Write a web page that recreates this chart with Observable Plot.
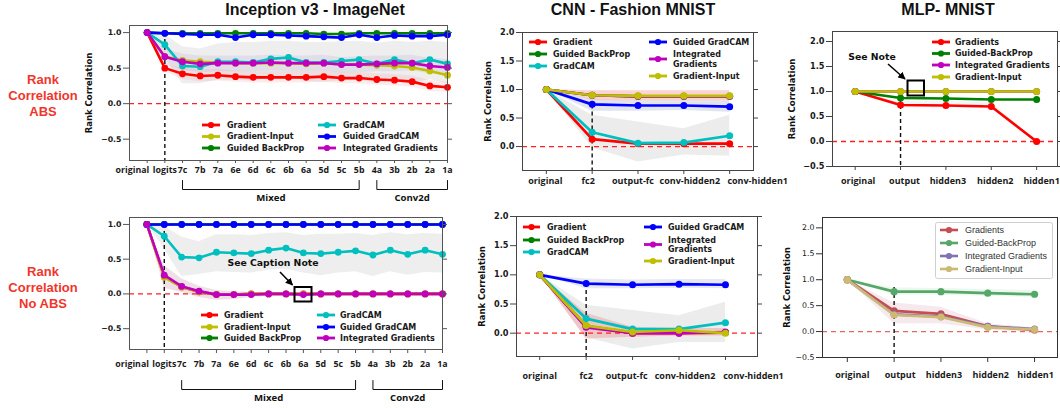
<!DOCTYPE html>
<html><head><meta charset="utf-8">
<script src="https://cdn.jsdelivr.net/npm/d3@7"></script>
<script src="https://cdn.jsdelivr.net/npm/@observablehq/plot@0.6"></script>
<style>
html,body{margin:0;padding:0;background:#fff;}
#root{position:relative;width:1060px;height:408px;overflow:hidden;background:#fff;}
#root > svg, #root > figure{position:absolute;margin:0;}
</style></head><body><div id="root"></div>
<script>
// ================= DATA =================
const inceptionLayers = ["original","logits","7c","7b","7a","6e","6d","6c","6b","6a","5d","5c","5b","4a","3b","2b","2a","1a"];
const inceptionGroupNames = ["Mixed","Conv2d"];
const inceptionGroupStart = ["7c","4a"];
const inceptionGroupEnd = ["5b","1a"];

// Inception v3 - ABS
const absGradient            = [1.00,0.50,0.42,0.39,0.40,0.38,0.37,0.37,0.37,0.37,0.38,0.36,0.36,0.34,0.33,0.31,0.25,0.23];
const absGradientInput       = [1.00,0.66,0.61,0.59,0.58,0.57,0.57,0.57,0.57,0.56,0.57,0.55,0.55,0.54,0.53,0.51,0.46,0.40];
const absGuidedBackProp      = [1.00,0.99,0.99,0.99,0.99,0.99,0.99,0.99,0.99,0.99,0.98,0.98,0.99,0.99,0.99,0.99,0.99,0.99];
const absGradCAM             = [1.00,0.83,0.53,0.52,0.59,0.59,0.58,0.63,0.65,0.58,0.58,0.60,0.62,0.56,0.62,0.57,0.62,0.56];
const absGuidedGradCAM       = [1.00,0.99,0.98,0.97,0.97,0.93,0.97,0.97,0.96,0.95,0.94,0.93,0.97,0.93,0.96,0.95,0.95,0.97];
const absIntegratedGradients = [1.00,0.66,0.59,0.56,0.57,0.57,0.57,0.58,0.57,0.57,0.57,0.55,0.55,0.56,0.57,0.57,0.53,0.51];
const absGradCAMLo  = [1.00,0.65,0.28,0.28,0.33,0.33,0.32,0.36,0.38,0.31,0.30,0.32,0.34,0.28,0.34,0.28,0.34,0.28];
const absGradCAMHi  = [1.00,0.97,0.80,0.77,0.84,0.86,0.86,0.88,0.88,0.86,0.86,0.87,0.88,0.85,0.88,0.86,0.88,0.86];
const absGradientLo = [1.00,0.45,0.34,0.31,0.32,0.30,0.29,0.29,0.29,0.29,0.30,0.28,0.28,0.26,0.25,0.23,0.17,0.16];
const absGradientHi = [1.00,0.55,0.50,0.47,0.48,0.46,0.45,0.45,0.45,0.45,0.46,0.44,0.44,0.42,0.41,0.39,0.33,0.30];
const absIGLo = [1.00,0.55,0.47,0.44,0.45,0.45,0.45,0.46,0.45,0.45,0.46,0.43,0.44,0.45,0.45,0.46,0.42,0.40];
const absIGHi = [1.00,0.77,0.70,0.67,0.67,0.67,0.67,0.68,0.67,0.67,0.68,0.65,0.66,0.67,0.67,0.68,0.64,0.62];

// Inception v3 - No ABS
const noAbsGradient            = [1.00,0.25,0.10,0.03,-0.01,-0.01,0.00,0.00,0.00,0.00,0.00,0.00,0.00,0.00,0.00,0.00,0.00,0.00];
const noAbsGradientInput       = [1.00,0.24,0.10,0.03,-0.01,-0.01,0.00,0.00,0.00,0.00,0.00,0.00,0.00,0.00,0.00,0.00,0.00,0.00];
const noAbsGuidedBackProp      = [1.00,1.00,1.00,1.00,1.00,1.00,1.00,1.00,1.00,1.00,1.00,1.00,1.00,1.00,1.00,1.00,1.00,1.00];
const noAbsGradCAM             = [1.00,0.83,0.53,0.52,0.60,0.59,0.58,0.63,0.66,0.59,0.58,0.60,0.62,0.56,0.63,0.57,0.63,0.57];
const noAbsGuidedGradCAM       = [1.00,1.00,1.00,1.00,1.00,1.00,1.00,1.00,1.00,1.00,1.00,1.00,1.00,1.00,1.00,1.00,1.00,1.00];
const noAbsIntegratedGradients = [1.00,0.27,0.11,0.04,-0.01,-0.01,-0.01,0.00,0.00,-0.01,0.00,0.00,0.00,0.00,0.00,0.00,0.00,0.00];
const noAbsGradCAMLo = [1.00,0.65,0.25,0.28,0.32,0.31,0.30,0.34,0.36,0.30,0.26,0.30,0.32,0.25,0.32,0.27,0.31,0.30];
const noAbsGradCAMHi = [1.00,0.97,0.82,0.75,0.85,0.85,0.84,0.87,0.88,0.84,0.86,0.86,0.87,0.84,0.88,0.85,0.87,0.86];
const noAbsIGLo = [1.00,0.08,0.02,-0.05,-0.09,-0.08,-0.05,-0.03,-0.02,-0.02,-0.02,-0.02,-0.02,-0.02,-0.02,-0.02,-0.02,-0.02];
const noAbsIGHi = [1.00,0.41,0.22,0.11,0.05,0.03,0.02,0.02,0.02,0.02,0.02,0.02,0.02,0.02,0.02,0.02,0.02,0.02];

// CNN - Fashion MNIST
const cnnLayers = ["original","fc2","output-fc","conv-hidden2","conv-hidden1"];
const cnnAbsGradient            = [1.00,0.13,0.05,0.05,0.05];
const cnnAbsGuidedBackProp      = [1.00,0.90,0.88,0.88,0.88];
const cnnAbsGradCAM             = [1.00,0.25,0.06,0.07,0.19];
const cnnAbsGuidedGradCAM       = [1.00,0.74,0.72,0.72,0.70];
const cnnAbsIntegratedGradients = [1.00,0.90,0.88,0.88,0.88];
const cnnAbsGradientInput       = [1.00,0.90,0.89,0.89,0.89];
const cnnAbsPinkLo = [1.00,0.81,0.80,0.80,0.80];
const cnnAbsPinkHi = [1.00,0.98,0.98,0.98,0.98];
const cnnAbsBlueLo = [1.00,0.62,0.62,0.63,0.60];
const cnnAbsBlueHi = [1.00,0.82,0.80,0.80,0.80];
const cnnAbsGrayLo = [1.00,-0.02,-0.27,-0.15,-0.17];
const cnnAbsGrayHi = [1.00,0.55,0.43,0.31,0.55];

const cnnNoAbsGradient            = [1.00,0.12,0.00,0.00,0.01];
const cnnNoAbsGuidedBackProp      = [1.00,0.12,0.01,0.01,0.01];
const cnnNoAbsGradCAM             = [1.00,0.25,0.07,0.07,0.18];
const cnnNoAbsGuidedGradCAM       = [1.00,0.85,0.83,0.84,0.83];
const cnnNoAbsIntegratedGradients = [1.00,0.10,0.00,0.00,0.02];
const cnnNoAbsGradientInput       = [1.00,0.13,0.02,0.05,0.00];
const cnnNoAbsBlueLo = [1.00,0.76,0.76,0.77,0.76];
const cnnNoAbsBlueHi = [1.00,0.93,0.91,0.92,0.92];
const cnnNoAbsGrayLo = [1.00,-0.08,-0.27,-0.16,-0.16];
const cnnNoAbsGrayHi = [1.00,0.48,0.39,0.30,0.53];
const cnnNoAbsPinkLo = [1.00,-0.10,-0.07,-0.05,-0.05];
const cnnNoAbsPinkHi = [1.00,0.34,0.10,0.08,0.08];

// MLP - MNIST
const mlpLayers = ["original","output","hidden3","hidden2","hidden1"];
const mlpAbsGradients           = [1.00,0.73,0.72,0.70,0.00];
const mlpAbsGuidedBackProp      = [1.00,0.87,0.86,0.84,0.84];
const mlpAbsIntegratedGradients = [1.00,1.00,1.00,1.00,1.00];
const mlpAbsGradientInput       = [1.00,1.00,1.00,1.00,1.00];
const mlpAbsGrayLo = [1.00,0.67,0.67,0.66,0.00];
const mlpAbsGrayHi = [1.00,0.80,0.80,0.79,0.00];

const mlpNoAbsGradients           = [1.00,0.40,0.34,0.10,0.03];
const mlpNoAbsGuidedBackProp      = [1.00,0.77,0.77,0.74,0.72];
const mlpNoAbsIntegratedGradients = [1.00,0.33,0.29,0.10,0.05];
const mlpNoAbsGradientInput       = [1.00,0.32,0.28,0.08,0.04];
const mlpNoAbsPinkLo  = [1.00,0.15,0.15,0.03,-0.02];
const mlpNoAbsPinkHi  = [1.00,0.55,0.47,0.15,0.07];
const mlpNoAbsGreenLo = [1.00,0.70,0.70,0.68,0.66];
const mlpNoAbsGreenHi = [1.00,0.84,0.83,0.81,0.79];

const yTicksInception = [-0.5,0,0.5,1.0];
const yTicksCNN = [0,0.5,1.0,1.5,2.0];
const yTicksMLP = [-0.5,0,0.5,1.0,1.5,2.0];

// ================= STYLE =================
const C = {red:"#ff0000", yellow:"#bfbf00", green:"#008000", cyan:"#00bfbf", blue:"#0000ff", magenta:"#bf00bf"};
const S = {red:"#c44e52", green:"#55a868", purple:"#8172b2", tan:"#ccb974"};
const BOLD = "DejaVu Sans";
const XFONT = "Open Sans";
// horizontal nudges (px) of the x tick labels, as in the reference layout
const cnnAbsLabelNudge   = [-1, -4, -5, 6, 28];
const cnnNoAbsLabelNudge = [0, 0, -6, 6, 28];
const mlpAbsLabelNudge   = [3, 4, 2, 4, 5];
const mlpNoAbsLabelNudge = [5, 6, 3, 3, 1];

const rowsOf = vals => vals.map((v, i) => ({i, v}));
const bandOf = (lo, hi) => lo.map((l, i) => ({i, lo: l, hi: hi[i]}));

function makePanel(cfg) {
  const [y0, y1] = cfg.yDomain;
  const fh = cfg.height - cfg.mt - cfg.mb;
  const fw = cfg.width - cfg.ml - cfg.mr;
  const pxX = fw / (cfg.xDomain[1] - cfg.xDomain[0]);
  const yPx = off => y0 - off * (y1 - y0) / fh;
  const n = cfg.layers.length;
  const nudge = cfg.labelNudge || cfg.layers.map(() => 0);
  const marks = [];
  for (const b of cfg.bands) {
    marks.push(Plot.areaY(bandOf(b.lo, b.hi), {x: "i", y1: "lo", y2: "hi", fill: b.fill, fillOpacity: b.opacity}));
  }
  marks.push(Plot.ruleY([0], {stroke: cfg.zeroColor, strokeWidth: 1.3, strokeDasharray: "5,4"}));
  marks.push(Plot.ruleX([cfg.vlineIndex], {y1: cfg.vlineTop, y2: y0, stroke: "#111", strokeWidth: 1.4, strokeDasharray: "4,3"}));
  for (const s of cfg.series) {
    const r = rowsOf(s.values);
    marks.push(Plot.line(r, {x: "i", y: "v", stroke: s.color, strokeWidth: cfg.lw}));
    marks.push(Plot.dot(r, {x: "i", y: "v", fill: s.color, r: cfg.r}));
  }
  marks.push(Plot.frame({stroke: cfg.frameColor, strokeWidth: 1}));
  marks.push(Plot.axisX(d3.range(n), {tickFormat: () => "", tickSize: cfg.xTickSize, label: null, stroke: cfg.frameColor}));
  const labelIdx = d3.range(n).filter(i => !(cfg.firstEnd && i === 0));
  const xText = {frameAnchor: "bottom", dy: cfg.labelDy, fontSize: cfg.xFont, fontWeight: "bold", fontFamily: XFONT, fill: "#1a1a1a"};
  marks.push(Plot.text(labelIdx, {...xText, x: i => i + nudge[i] / pxX, text: i => cfg.layers[i]}));
  if (cfg.firstEnd) {
    marks.push(Plot.text([0], {...xText, x: i => i + 2 / pxX, text: i => cfg.layers[i], textAnchor: "end"}));
  }
  marks.push(Plot.axisY(cfg.yTicks, {
    tickFormat: d3.format(".1f"), tickSize: 6, tickPadding: 2, fontSize: cfg.yFont,
    fontWeight: cfg.yWeight, fontFamily: BOLD, label: null, stroke: cfg.frameColor
  }));
  if (cfg.rightTicks) {
    marks.push(Plot.axisY(cfg.yTicks, {anchor: "right", tickFormat: () => "", tickSize: 4, label: null, stroke: cfg.frameColor}));
  }
  if (cfg.yLabel) {
    marks.push(Plot.text([cfg.yLabel], {frameAnchor: "left", rotate: -90, dx: cfg.yLabelDx,
      fontSize: 8.5, fontWeight: "bold", fontFamily: BOLD, textAnchor: "middle", fill: "#111"}));
  }
  if (cfg.groups) {
    cfg.groups.names.forEach((name, k) => {
      const a = cfg.layers.indexOf(cfg.groups.start[k]);
      const b = cfg.layers.indexOf(cfg.groups.end[k]);
      const top = yPx(cfg.groups.top), bot = yPx(cfg.groups.bottom);
      marks.push(Plot.line([[a, top], [a, bot], [b, bot], [b, top]], {stroke: "#111", strokeWidth: 1}));
      marks.push(Plot.text([name], {x: (a + b) / 2, y: yPx(cfg.groups.text), fontSize: 9.6,
        fontWeight: "bold", fontFamily: XFONT, fill: "#111"}));
    });
  }
  const fig = Plot.plot({
    width: cfg.width, height: cfg.height,
    marginLeft: cfg.ml, marginRight: cfg.mr, marginTop: cfg.mt, marginBottom: cfg.mb,
    x: {type: "linear", domain: cfg.xDomain},
    y: {type: "linear", domain: cfg.yDomain},
    style: {fontFamily: BOLD, fontSize: "8px", color: "#1a1a1a", background: "transparent", overflow: "visible"},
    marks
  });
  fig.style.left = cfg.left + "px";
  fig.style.top = cfg.top + "px";
  fig.style.position = "absolute";
  document.getElementById("root").appendChild(fig);
}

const grayBand = "#cfcfcf", pinkBand = "#f08080", blueBand = "#9aa8c8";

// Panel 1: Inception ABS
makePanel({
  left: 0, top: 0, width: 460, height: 205, ml: 129, mr: 13, mt: 25, mb: 45,
  layers: inceptionLayers, xDomain: [-1, 17], yDomain: [-0.8, 1.1], yTicks: yTicksInception,
  bands: [
    {lo: absGradCAMLo, hi: absGradCAMHi, fill: grayBand, opacity: 0.35},
    {lo: absIGLo, hi: absIGHi, fill: "#c8b8d8", opacity: 0.3},
    {lo: absGradientLo, hi: absGradientHi, fill: pinkBand, opacity: 0.15}
  ],
  series: [
    {values: absGradient, color: C.red},
    {values: absGradientInput, color: C.yellow},
    {values: absGuidedBackProp, color: C.green},
    {values: absGradCAM, color: C.cyan},
    {values: absGuidedGradCAM, color: C.blue},
    {values: absIntegratedGradients, color: C.magenta}
  ],
  vlineIndex: 1, vlineTop: 1.0, zeroColor: "#ff2020",
  lw: 2.6, r: 3.4, frameColor: "#555", xTickSize: 3, labelDy: 12, xFont: 8.8, yFont: 7.8, yWeight: "bold",
  firstEnd: true, rightTicks: true, yLabel: "Rank Correlation", yLabelDx: -40,
  groups: {names: inceptionGroupNames, start: inceptionGroupStart, end: inceptionGroupEnd, top: 20, bottom: 29, text: 37}
});

// Panel 2: Inception No ABS
makePanel({
  left: 0, top: 205, width: 460, height: 203, ml: 129, mr: 18, mt: 12, mb: 59,
  layers: inceptionLayers, xDomain: [-1, 17], yDomain: [-0.8, 1.1], yTicks: yTicksInception,
  bands: [
    {lo: noAbsGradCAMLo, hi: noAbsGradCAMHi, fill: grayBand, opacity: 0.35},
    {lo: noAbsIGLo, hi: noAbsIGHi, fill: "#c89aa8", opacity: 0.3}
  ],
  series: [
    {values: noAbsGradient, color: C.red},
    {values: noAbsGradientInput, color: C.yellow},
    {values: noAbsGuidedBackProp, color: C.green},
    {values: noAbsGradCAM, color: C.cyan},
    {values: noAbsGuidedGradCAM, color: C.blue},
    {values: noAbsIntegratedGradients, color: C.magenta}
  ],
  vlineIndex: 1, vlineTop: 1.0, zeroColor: "#ff2020",
  lw: 2.6, r: 3.4, frameColor: "#555", xTickSize: 4, labelDy: 17, xFont: 8.8, yFont: 7.8, yWeight: "bold",
  firstEnd: true, rightTicks: true, yLabel: null,
  groups: {names: inceptionGroupNames, start: inceptionGroupStart, end: inceptionGroupEnd, top: 31, bottom: 40, text: 48}
});

// Panel 3: CNN ABS
makePanel({
  left: 460, top: 0, width: 310, height: 205, ml: 62, mr: 17, mt: 32, mb: 35,
  layers: cnnLayers, xDomain: [-0.52, 4.52], yDomain: [-0.42, 2.0], yTicks: yTicksCNN,
  bands: [
    {lo: cnnAbsGrayLo, hi: cnnAbsGrayHi, fill: grayBand, opacity: 0.4},
    {lo: cnnAbsBlueLo, hi: cnnAbsBlueHi, fill: blueBand, opacity: 0.3},
    {lo: cnnAbsPinkLo, hi: cnnAbsPinkHi, fill: pinkBand, opacity: 0.35}
  ],
  series: [
    {values: cnnAbsGradient, color: C.red},
    {values: cnnAbsGuidedBackProp, color: C.green},
    {values: cnnAbsGradCAM, color: C.cyan},
    {values: cnnAbsGuidedGradCAM, color: C.blue},
    {values: cnnAbsIntegratedGradients, color: C.magenta},
    {values: cnnAbsGradientInput, color: C.yellow}
  ],
  vlineIndex: 1, vlineTop: 0.73, zeroColor: "#ff2020",
  lw: 2.7, r: 3.5, frameColor: "#444", xTickSize: 4, labelDy: 13, xFont: 9, yFont: 8.2, yWeight: "bold",
  labelNudge: cnnAbsLabelNudge, rightTicks: true, yLabel: "Rank Correlation", yLabelDx: -34
});

// Panel 4: CNN No ABS
makePanel({
  left: 460, top: 205, width: 310, height: 203, ml: 56, mr: 13, mt: 11, mb: 52,
  layers: cnnLayers, xDomain: [-0.5, 4.69], yDomain: [-0.4, 2.0], yTicks: yTicksCNN,
  bands: [
    {lo: cnnNoAbsGrayLo, hi: cnnNoAbsGrayHi, fill: grayBand, opacity: 0.4},
    {lo: cnnNoAbsBlueLo, hi: cnnNoAbsBlueHi, fill: blueBand, opacity: 0.25},
    {lo: cnnNoAbsPinkLo, hi: cnnNoAbsPinkHi, fill: pinkBand, opacity: 0.35}
  ],
  series: [
    {values: cnnNoAbsGradient, color: C.red},
    {values: cnnNoAbsGuidedBackProp, color: C.green},
    {values: cnnNoAbsGradCAM, color: C.cyan},
    {values: cnnNoAbsGuidedGradCAM, color: C.blue},
    {values: cnnNoAbsIntegratedGradients, color: C.magenta},
    {values: cnnNoAbsGradientInput, color: C.yellow}
  ],
  vlineIndex: 1, vlineTop: 0.85, zeroColor: "#ff2020",
  lw: 2.7, r: 3.5, frameColor: "#444", xTickSize: 4, labelDy: 22, xFont: 9, yFont: 8.2, yWeight: "bold",
  labelNudge: cnnNoAbsLabelNudge, rightTicks: true, yLabel: "Rank Correlation", yLabelDx: -34
});

// Panel 5: MLP ABS
makePanel({
  left: 770, top: 0, width: 290, height: 205, ml: 62, mr: 3, mt: 31, mb: 39,
  layers: mlpLayers, xDomain: [-0.5, 4.46], yDomain: [-0.5, 2.2], yTicks: yTicksMLP,
  bands: [
    {lo: mlpAbsGrayLo, hi: mlpAbsGrayHi, fill: grayBand, opacity: 0.2}
  ],
  series: [
    {values: mlpAbsGradients, color: C.red},
    {values: mlpAbsGuidedBackProp, color: C.green},
    {values: mlpAbsIntegratedGradients, color: C.magenta},
    {values: mlpAbsGradientInput, color: C.yellow}
  ],
  vlineIndex: 1, vlineTop: 0.86, zeroColor: "#ff2020",
  lw: 2.7, r: 3.5, frameColor: "#444", xTickSize: 4, labelDy: 17, xFont: 9, yFont: 8.2, yWeight: "bold",
  labelNudge: mlpAbsLabelNudge, rightTicks: true, yLabel: "Rank Correlation", yLabelDx: -40
});

// Panel 6: MLP No ABS (seaborn style)
makePanel({
  left: 770, top: 205, width: 290, height: 203, ml: 52, mr: 3, mt: 12, mb: 51,
  layers: mlpLayers, xDomain: [-0.53, 4.49], yDomain: [-0.5, 2.2], yTicks: yTicksMLP,
  bands: [
    {lo: mlpNoAbsGreenLo, hi: mlpNoAbsGreenHi, fill: "#b8e0c0", opacity: 0.25},
    {lo: mlpNoAbsPinkLo, hi: mlpNoAbsPinkHi, fill: "#d8a8b8", opacity: 0.25}
  ],
  series: [
    {values: mlpNoAbsGradients, color: S.red},
    {values: mlpNoAbsGuidedBackProp, color: S.green},
    {values: mlpNoAbsIntegratedGradients, color: S.purple},
    {values: mlpNoAbsGradientInput, color: S.tan}
  ],
  vlineIndex: 1, vlineTop: 0.85, zeroColor: "#e06868",
  lw: 2.7, r: 3.6, frameColor: "#333", xTickSize: 5, labelDy: 20, xFont: 9, yFont: 7.8, yWeight: "normal",
  labelNudge: mlpNoAbsLabelNudge, rightTicks: false, yLabel: "Rank Correlation", yLabelDx: -35
});

// ================= OVERLAY: titles, row labels, legends, notes =================
const ov = d3.select("#root").append("svg")
  .attr("width", 1060).attr("height", 408)
  .style("left", "0px").style("top", "0px").style("position", "absolute").style("pointer-events", "none");

ov.append("defs").append("marker").attr("id", "arr").attr("viewBox", "0 0 10 10")
  .attr("refX", 9).attr("refY", 5).attr("markerWidth", 5).attr("markerHeight", 5).attr("orient", "auto")
  .append("path").attr("d", "M0,0 L10,5 L0,10 z").attr("fill", "#000");

const titles = [
  {text: "Inception v3 - ImageNet", x: 315},
  {text: "CNN - Fashion MNIST", x: 633},
  {text: "MLP- MNIST", x: 948}
];
ov.selectAll("text.title").data(titles).join("text").attr("class", "title")
  .attr("x", d => d.x).attr("y", 15).attr("text-anchor", "middle")
  .attr("font-family", "Liberation Sans, Arial, sans-serif").attr("font-weight", "bold")
  .attr("font-size", 16).attr("fill", "#111").text(d => d.text);

const rowLabels = [
  {lines: ["Rank", "Correlation", "ABS"], y: 79},
  {lines: ["Rank", "Correlation", "No ABS"], y: 271}
];
rowLabels.forEach(r => {
  r.lines.forEach((l, k) => {
    ov.append("text").attr("x", 43).attr("y", r.y + k * 16).attr("dy", "0.35em")
      .attr("text-anchor", "middle").attr("font-family", "Liberation Sans, Arial, sans-serif")
      .attr("font-weight", "bold").attr("font-size", 13).attr("fill", "#f2352b").text(l);
  });
});

function legendEntry(g, e, style) {
  g.append("line").attr("x1", e.x0).attr("x2", e.x1).attr("y1", e.y).attr("y2", e.y)
    .attr("stroke", e.color).attr("stroke-width", style.lw);
  g.append("circle").attr("cx", (e.x0 + e.x1) / 2).attr("cy", e.y).attr("r", style.r).attr("fill", e.color);
  const lines = e.label.split("\n");
  const lh = style.lh;
  lines.forEach((l, k) => {
    g.append("text").attr("x", e.tx).attr("y", e.y + (k - (lines.length - 1) / 2) * lh).attr("dy", "0.35em")
      .attr("font-family", style.font).attr("font-weight", style.weight).attr("font-size", style.size)
      .attr("fill", style.fill).text(l);
  });
}
const boldLegend = {lw: 2.8, r: 3.1, lh: 9.5, font: "DejaVu Sans", weight: "bold", size: 8, fill: "#1a1a1a"};

const legendSpecs = [
  // Panel 1
  [{label: "Gradient", color: C.red, x0: 202, x1: 220, tx: 227, y: 125},
   {label: "Gradient-Input", color: C.yellow, x0: 202, x1: 220, tx: 227, y: 136.5},
   {label: "Guided BackProp", color: C.green, x0: 202, x1: 220, tx: 227, y: 148},
   {label: "GradCAM", color: C.cyan, x0: 318, x1: 336, tx: 343, y: 125},
   {label: "Guided GradCAM", color: C.blue, x0: 318, x1: 336, tx: 343, y: 136.5},
   {label: "Integrated Gradients", color: C.magenta, x0: 318, x1: 336, tx: 343, y: 148}],
  // Panel 2
  [{label: "Gradient", color: C.red, x0: 201, x1: 218, tx: 224, y: 315},
   {label: "Gradient-Input", color: C.yellow, x0: 201, x1: 218, tx: 224, y: 327},
   {label: "Guided BackProp", color: C.green, x0: 201, x1: 218, tx: 224, y: 338},
   {label: "GradCAM", color: C.cyan, x0: 317, x1: 335, tx: 340, y: 315},
   {label: "Guided GradCAM", color: C.blue, x0: 317, x1: 335, tx: 340, y: 327},
   {label: "Integrated Gradients", color: C.magenta, x0: 317, x1: 335, tx: 340, y: 338}],
  // Panel 3
  [{label: "Gradient", color: C.red, x0: 529, x1: 547, tx: 553, y: 42},
   {label: "Guided BackProp", color: C.green, x0: 529, x1: 547, tx: 553, y: 54},
   {label: "GradCAM", color: C.cyan, x0: 529, x1: 547, tx: 553, y: 66},
   {label: "Guided GradCAM", color: C.blue, x0: 649, x1: 667, tx: 673, y: 42},
   {label: "Integrated\nGradients", color: C.magenta, x0: 649, x1: 667, tx: 673, y: 59},
   {label: "Gradient-Input", color: C.yellow, x0: 649, x1: 667, tx: 673, y: 76}],
  // Panel 4
  [{label: "Gradient", color: C.red, x0: 523, x1: 540, tx: 547, y: 227},
   {label: "Guided BackProp", color: C.green, x0: 523, x1: 540, tx: 547, y: 240},
   {label: "GradCAM", color: C.cyan, x0: 523, x1: 540, tx: 547, y: 252},
   {label: "Guided GradCAM", color: C.blue, x0: 644, x1: 662, tx: 668, y: 227},
   {label: "Integrated\nGradients", color: C.magenta, x0: 644, x1: 662, tx: 668, y: 244.5},
   {label: "Gradient-Input", color: C.yellow, x0: 644, x1: 662, tx: 668, y: 261}],
  // Panel 5
  [{label: "Gradients", color: C.red, x0: 932, x1: 950, tx: 955, y: 42},
   {label: "Guided-BackProp", color: C.green, x0: 932, x1: 950, tx: 955, y: 53.5},
   {label: "Integrated Gradients", color: C.magenta, x0: 932, x1: 950, tx: 955, y: 65},
   {label: "Gradient-Input", color: C.yellow, x0: 932, x1: 950, tx: 955, y: 77}]
];
legendSpecs.forEach(spec => {
  const g = ov.append("g");
  spec.forEach(e => legendEntry(g, e, boldLegend));
});

// Panel 6 legend (boxed, regular font)
const g6 = ov.append("g");
g6.append("rect").attr("x", 935.5).attr("y", 222.5).attr("width", 117).attr("height", 56).attr("rx", 2)
  .attr("fill", "#fff").attr("fill-opacity", 0.9).attr("stroke", "#d0d0d0").attr("stroke-width", 1);
const regLegend = {lw: 2.6, r: 3.1, lh: 10, font: "Liberation Sans, Arial, sans-serif", weight: "normal", size: 9, fill: "#333"};
[{label: "Gradients", color: S.red, y: 230},
 {label: "Guided-BackProp", color: S.green, y: 243},
 {label: "Integrated Gradients", color: S.purple, y: 256},
 {label: "Gradient-Input", color: S.tan, y: 269}]
  .forEach(e => legendEntry(g6, {...e, x0: 940, x1: 958, tx: 965}, regLegend));

// Notes
const notes = [
  {text: "See Caption Note", tx: 273, ty: 263, ax1: 280, ay1: 272, ax2: 292.5, ay2: 285, bx: 294.5, by: 287, bw: 17, bh: 14.5},
  {text: "See Note", tx: 872, ty: 57, ax1: 888, ay1: 64, ax2: 905, ay2: 79, bx: 907.5, by: 80.5, bw: 16.5, bh: 15}
];
notes.forEach(n => {
  ov.append("text").attr("x", n.tx).attr("y", n.ty).attr("dy", "0.35em").attr("text-anchor", "middle")
    .attr("font-family", "DejaVu Sans").attr("font-weight", "bold").attr("font-size", 9.3).attr("fill", "#111").text(n.text);
  ov.append("line").attr("x1", n.ax1).attr("y1", n.ay1).attr("x2", n.ax2).attr("y2", n.ay2)
    .attr("stroke", "#000").attr("stroke-width", 1.5).attr("marker-end", "url(#arr)");
  ov.append("rect").attr("x", n.bx).attr("y", n.by).attr("width", n.bw).attr("height", n.bh)
    .attr("fill", "none").attr("stroke", "#000").attr("stroke-width", 2);
});
</script></body></html>
